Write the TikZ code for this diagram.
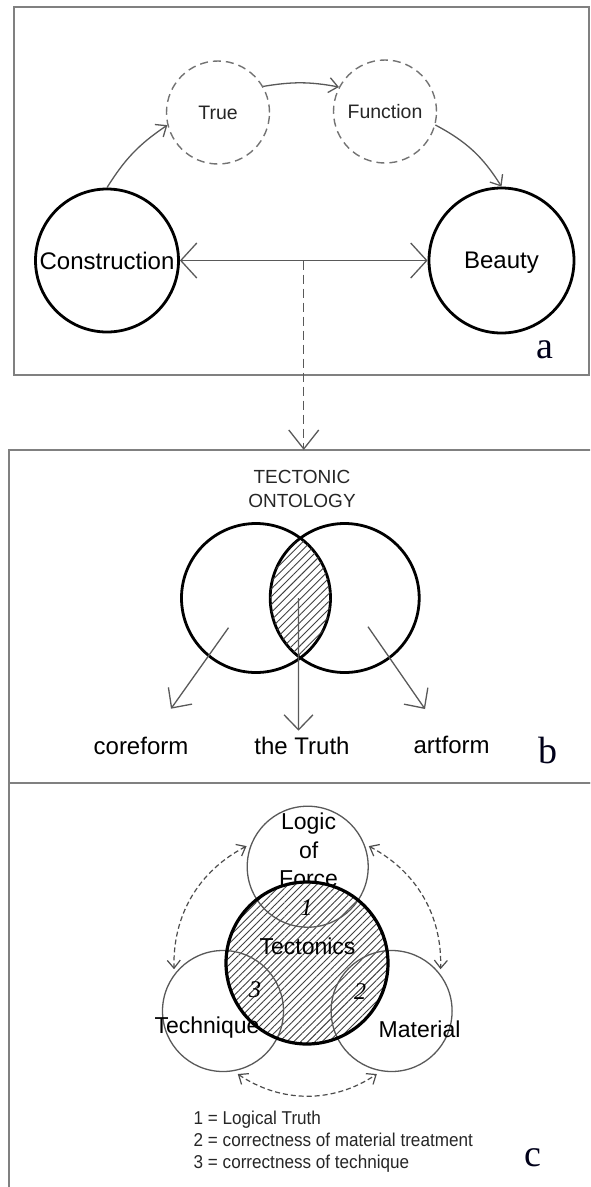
\documentclass[tikz,border=0pt]{standalone}
\usepackage{fontspec}
\setmainfont{Liberation Sans}
\newfontfamily\letterfont{Liberation Serif}
\newfontfamily\legendfont[FakeStretch=0.92]{Liberation Sans}
\usetikzlibrary{arrows.meta, patterns.meta, positioning}
\tikzset{
  panel/.style={rectangle, draw=black!50, line width=2pt, inner sep=0pt, outer sep=0pt},
  bigcircle/.style={circle, draw=black, line width=2.8pt, inner sep=0pt, text depth=0pt, font=\fontsize{24}{28}\selectfont},
  dashcircle/.style={circle, draw=black!55, line width=1.4pt, dash pattern=on 8pt off 5pt, inner sep=0pt, text depth=0pt, minimum size=103pt, text=black!85, font=\fontsize{19.5}{24}\selectfont},
  linkarrow/.style={draw=black!65, line width=1.3pt, -{Straight Barb[length=9pt, width=15pt]}},
  bigdouble/.style={draw=black!65, line width=1.3pt, {Straight Barb[length=16pt, width=35pt]}-{Straight Barb[length=16pt, width=35pt]}},
  dashlink/.style={draw=black!65, line width=1.3pt, dash pattern=on 9pt off 5pt, -{Straight Barb[length=19pt, width=30pt]}},
  letter/.style={font=\letterfont\fontsize{38}{42}\selectfont, text=black!90!blue},
  venn/.style={circle, draw=black, line width=2.8pt, inner sep=0pt, minimum size=149pt},
  hatch/.style={pattern={Lines[angle=45, distance=5.5pt, line width=0.9pt]}, pattern color=black!75},
  blabel/.style={font=\fontsize{24}{28}\selectfont, inner sep=0pt},
  formarrow/.style={draw=black!65, line width=1.3pt, -{Straight Barb[length=15pt, width=29pt]}},
  ctext/.style={font=\fontsize{23}{28.5}\selectfont, inner sep=0pt},
  numtxt/.style={font=\letterfont\itshape\fontsize{24}{28}\selectfont, inner sep=0pt},
  smallcircle/.style={circle, draw=black!65, line width=1.3pt, inner sep=0pt, minimum size=121pt},
  tectcircle/.style={circle, inner sep=0pt, minimum size=162pt, preaction={fill=white}, pattern={Lines[angle=45, distance=5pt, line width=0.9pt]}, pattern color=black!75},
  tectborder/.style={draw=black, line width=3.2pt},
  cyclearrow/.style={draw=black!70, line width=1.2pt, dash pattern=on 5pt off 3pt, {Straight Barb[length=8pt, width=13pt]}-{Straight Barb[length=8pt, width=13pt]}, shorten <=5pt, shorten >=5pt},
  legendtxt/.style={font=\legendfont\fontsize{18.6}{21.7}\selectfont, text=black!85, inner sep=0pt}
}
\begin{document}
\begin{tikzpicture}[x=1pt, y=1pt]
  \useasboundingbox (0,0) rectangle (590,-1187);
  \clip (0,0) rectangle (590,-1187);

  % Panel a - construction and beauty
  \node (panela) [panel, minimum width=575pt, minimum height=368pt] at (301.5,-191) {};
  \node (constr) [bigcircle, minimum size=143pt] at (107,-260.5) {Construction};
  \node (beauty) [bigcircle, minimum size=145pt] at (501.5,-260.5) {Beauty};
  \node (true) [dashcircle] at (218,-112.5) {True};
  \node (function) [dashcircle] at (385,-111.5) {Function};
  \draw [linkarrow] (constr.north) to[bend left=12] (true.194);
  \draw [linkarrow] (true.30) to[bend left=10] (function.152);
  \draw [linkarrow] (function.-15) to[bend left=15] (beauty.north);
  \draw [bigdouble] (constr.east) -- (beauty.west);
  \path (constr.east) -- (beauty.west) coordinate[midway] (split);
  \node (la) [letter] at (545,-350) {a};

  % Panel b - tectonic ontology
  \node (panelb) [panel, minimum width=591pt, minimum height=333pt] at (304.5,-616.5) {};
  \draw [dashlink] (split) -- (split |- panelb.north);
  \node (title) [font=\fontsize{19}{24}\selectfont, align=center, text=black!85] at (302,-488.5) {TECTONIC\\ONTOLOGY};
  \node (vleft) [venn] at (256,-598) {};
  \node (vright) [venn] at (344.7,-598) {};
  \begin{scope}
    \clip (vleft.center) circle[radius=74.5];
    \fill [hatch] (vright.center) circle[radius=74.5];
  \end{scope}
  \path (vleft) -- (vright) coordinate[midway] (lens);
  \node (coreform) [blabel] at (141,-745.7) {coreform};
  \node (truth) [blabel] at (302,-745.7) {the Truth};
  \node (artform) [blabel] at (451.6,-745) {artform};
  \coordinate (cfs) at ([xshift=-27.5pt, yshift=-29.7pt]vleft.center);
  \coordinate (ths) at ([xshift=-1.8pt]lens);
  \coordinate (afs) at ([xshift=23.3pt, yshift=-28.7pt]vright.center);
  \draw [formarrow] (cfs) -- ([xshift=30pt, yshift=37pt]coreform.center);
  \draw [formarrow] (ths) -- ([xshift=-3.5pt, yshift=15pt]truth.center);
  \draw [formarrow] (afs) -- ([xshift=-26.6pt, yshift=36pt]artform.center);
  \node (lb) [letter] at (548,-750) {b};

  % Panel c - tectonics
  \node (panelc) [panel, minimum width=591pt, minimum height=417pt] at (304.5,-991.5) {};
  \node (logictxt) [ctext, align=center] at (308.6,-850) {Logic\\of\\Force};
  \node (tectonics) [tectcircle] at (307,-963) {};
  \node (logic) [smallcircle] at (307.7,-866.7) {};
  \node (technique) [smallcircle] at (223,-1011) {};
  \node (material) [smallcircle] at (391.6,-1011) {};
  \draw [tectborder] (tectonics.center) circle[radius=81];
  \node (tecttxt) [ctext] at (307.5,-946.7) {Tectonics};
  \node (techtxt) [ctext] at (207,-1028) {Technique};
  \node (mattxt) [ctext] at (419.6,-1029.3) {Material};
  \node (n1) [numtxt] at (306.7,-908) {1};
  \node (n2) [numtxt] at (360,-991.7) {2};
  \node (n3) [numtxt] at (255,-990) {3};
  \draw [cyclearrow] (logic.158) to[bend right=32] (technique.143);
  \draw [cyclearrow] (logic.22) to[bend left=32] (material.37);
  \draw [cyclearrow] (technique.-80) to[bend right=34] (material.260);
  \node (legend) [legendtxt, anchor=west, align=left] at (193.5,-1141.7) {1 = Logical Truth\\2 = correctness of material treatment\\3 = correctness of technique};
  \node (lc) [letter] at (533,-1158) {c};
\end{tikzpicture}
\end{document}
